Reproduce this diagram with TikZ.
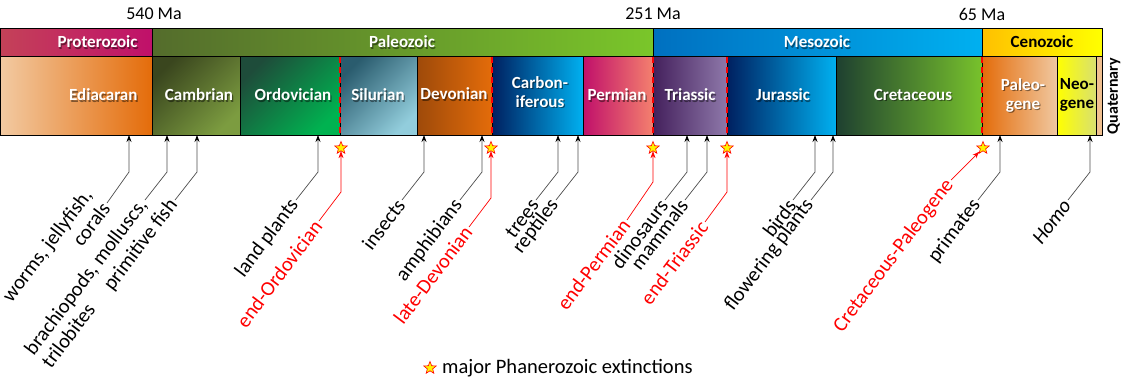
\documentclass[tikz,border=0pt]{standalone}
\usepackage{fontspec}
\setmainfont{Carlito}
\usetikzlibrary{arrows.meta,shapes.geometric}

% era colours
\definecolor{protA}{RGB}{196,66,88}
\definecolor{protB}{RGB}{192,16,106}
\definecolor{paleoA}{RGB}{84,108,44}
\definecolor{paleoB}{RGB}{122,198,42}
\definecolor{mesoA}{RGB}{0,112,192}
\definecolor{mesoB}{RGB}{0,176,240}
\definecolor{cenoA}{RGB}{255,192,0}
\definecolor{cenoB}{RGB}{255,255,0}
% period colours
\definecolor{ediA}{RGB}{242,202,162}
\definecolor{ediB}{RGB}{228,108,10}
\definecolor{cambA}{RGB}{58,70,30}
\definecolor{cambB}{RGB}{124,156,64}
\definecolor{ordA}{RGB}{30,76,58}
\definecolor{ordB}{RGB}{0,178,80}
\definecolor{silA}{RGB}{42,92,110}
\definecolor{silB}{RGB}{146,205,220}
\definecolor{devA}{RGB}{158,74,10}
\definecolor{devB}{RGB}{228,108,10}
\definecolor{carbA}{RGB}{0,32,96}
\definecolor{carbB}{RGB}{0,176,240}
\definecolor{permA}{RGB}{192,16,106}
\definecolor{permB}{RGB}{244,128,110}
\definecolor{triA}{RGB}{68,32,92}
\definecolor{triB}{RGB}{142,120,170}
\definecolor{jurA}{RGB}{0,32,96}
\definecolor{jurB}{RGB}{0,176,240}
\definecolor{creA}{RGB}{30,64,48}
\definecolor{creB}{RGB}{120,194,44}
\definecolor{pgA}{RGB}{228,108,10}
\definecolor{pgB}{RGB}{240,200,160}
\definecolor{ngA}{RGB}{255,255,0}
\definecolor{ngB}{RGB}{216,224,112}
\definecolor{quat}{RGB}{240,192,144}

\tikzset{
  bar/.style={draw=black,line width=0.8pt},
  eralbl/.style={font=\bfseries\fontsize{17}{19}\selectfont,text=white},
  perlbl/.style={font=\bfseries\fontsize{17}{19}\selectfont,text=white,align=center},
  shadelbl/.style={font=\bfseries\fontsize{17}{19}\selectfont,text=black,text opacity=0.45,align=center},
  bound/.style={red,line width=1.8pt,dash pattern=on 6pt off 4pt},
  malbl/.style={font=\fontsize{18}{20}\selectfont},
  lbl/.style={font=\fontsize{20.5}{22}\selectfont,rotate=53,inner sep=2pt},
  extlbl/.style={lbl,text=red},
  lead/.style={draw=black!70,line width=0.7pt,-{Stealth[length=7pt,width=5pt,color=black]}},
  extlead/.style={draw=red,line width=0.7pt,-{Stealth[length=7pt,width=5pt]}},
  extstar/.style={star,star points=5,star point ratio=2.3,fill=yellow,draw=red,
    line width=0.6pt,minimum size=13pt,inner sep=0pt}
}

\begin{document}
\begin{tikzpicture}[x=1pt,y=-1pt]
\useasboundingbox (0,0) rectangle (1125,383);

% ages
\node[malbl] (ma540) at (154,14) {540 Ma};
\node[malbl] (ma251) at (653,14) {251 Ma};
\node[malbl] (ma65) at (982,14) {65 Ma};

% eras
\draw[bar,left color=protA,right color=protB] (0,28) rectangle (152,56);
\draw[bar,left color=paleoA,right color=paleoB] (152,28) rectangle (653,56);
\draw[bar,left color=mesoA,right color=mesoB] (653,28) rectangle (982,56);
\draw[bar,left color=cenoA,right color=cenoB] (982,28) rectangle (1102,56);
\foreach \x/\an/\n/\t in {141/east/prot/Proterozoic,402/center/paleo/Paleozoic,817/center/meso/Mesozoic}{
  \node[shadelbl,anchor=\an] at (\x+1.2,43.2) {\t};
  \node[eralbl,anchor=\an] (e\n) at (\x,42) {\t};
}
\node[eralbl,text=black] (eceno) at (1042,42) {Cenozoic};

% periods
\foreach \xa/\xb/\ca/\cb/\ang in {0/152/ediA/ediB/90,152/240/cambA/cambB/45,240/340/ordA/ordB/45,
    340/417/silA/silB/45,417/492/devA/devB/90,492/583/carbA/carbB/90,583/653/permA/permB/90,
    653/727/triA/triB/90,727/836/jurA/jurB/90,836/982/creA/creB/90,982/1057/pgA/pgB/90,
    1057/1096/ngA/ngB/90}
  \draw[bar,left color=\ca,right color=\cb,shading angle=\ang] (\xa,56) rectangle (\xb,135);
\draw[bar,fill=quat] (1096,56) rectangle (1102,135);
\foreach \x/\y/\an/\n/\t in {141/95/east/edi/Ediacaran,199/95/center/camb/Cambrian,
    293/95/center/ord/Ordovician,378/95/center/sil/Silurian,454/94/center/dev/Devonian,
    540/92/center/carb/{Carbon-\\iferous},617/95/center/perm/Permian,690/95/center/tri/Triassic,
    783/95/center/jur/Jurassic,913/95/center/cre/Cretaceous,1023/95/center/pg/{Paleo-\\gene}}{
  \node[shadelbl,anchor=\an] at (\x+1.2,\y+1.2) {\t};
  \node[perlbl,anchor=\an] (p\n) at (\x,\y) {\t};
}
\node[perlbl,text=black] (png) at (1077,95) {Neo-\\gene};
\node[font=\bfseries\fontsize{16}{18}\selectfont,rotate=90,inner sep=0pt] (pquat) at (1114,96) {Quaternary};

% extinction boundaries
\foreach \x in {340,492,653,727,982}
  \draw[bound] (\x,57) -- (\x,134);

% first appearances
\coordinate (tworms) at (129,135);
\node[lbl,anchor=east] (lcorals) at (107,203) {corals};
\node[lbl,anchor=east] (lworms) at ([shift={(-17,-12.5)}]lcorals.east) {worms, jellyfish,};
\draw[lead] (lcorals.east) -- (129,172) -- (tworms);

\coordinate (tbrach) at (167,135);
\node[lbl,anchor=east] (lbrach) at (145,200) {brachiopods, molluscs,};
\node[lbl,anchor=west] (ltril) at ([shift={(16,12)}]lbrach.west) {trilobites};
\draw[lead] (lbrach.east) -- (167,172) -- (tbrach);

\foreach \x/\n/\t in {197/fish/primitive fish,318/land/land plants,424/ins/insects,482/amph/amphibians,
    558/trees/trees,578/rept/reptiles,687/dino/dinosaurs,707/mamm/mammals,815/birds/birds,
    833/flow/flowering plants,1000/prim/primates,1090/homo/\textit{Homo}}{
  \coordinate (t\n) at (\x,135);
  \node[lbl,anchor=east] (l\n) at (\x-22,200) {\t};
  \draw[lead] (l\n.east) -- (\x,172) -- (t\n);
}

% extinctions
\foreach \x/\c/\lx/\ly/\n/\t in {341/192/319/221/ord/end-Ordovician,491/198/469/227/dev/late-Devonian,
    653/182/627/220/perm/end-Permian,727/192/705/222/tri/end-Triassic}{
  \node[extstar] (s\n) at (\x,148) {};
  \node[extlbl,anchor=east] (x\n) at (\lx,\ly) {\t};
  \draw[extlead] (x\n.east) -- (\x,\c) -- (s\n.south);
}
\node[extstar] (skp) at (983,148) {};
\node[extlbl,anchor=east] (xkp) at (951,180) {Cretaceous-Paleogene};
\draw[extlead] (xkp.east) -- (skp);

% legend
\node[extstar] (legstar) at (430,368) {};
\node[font=\fontsize{20.5}{22}\selectfont,anchor=west,inner sep=0pt] (legtxt) at (442,368) {major Phanerozoic extinctions};
\end{tikzpicture}
\end{document}
